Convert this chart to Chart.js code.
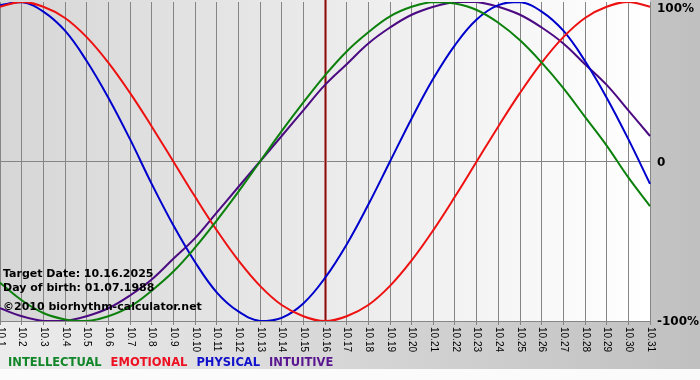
<!DOCTYPE html>
<html>
<head>
<meta charset="utf-8">
<script src="https://cdn.jsdelivr.net/npm/chart.js@4.4.1/dist/chart.umd.min.js"></script>
<style>
  html, body { margin: 0; padding: 0; background: #fff; }
  #wrap { width: 700px; height: 380px; }
</style>
</head>
<body>
<div id="wrap"><canvas id="bio-chart" width="700" height="380"></canvas></div>
<script>
const DAYS = ['10.1', '10.2', '10.3', '10.4', '10.5', '10.6', '10.7', '10.8', '10.9', '10.10',
    '10.11', '10.12', '10.13', '10.14', '10.15', '10.16', '10.17', '10.18', '10.19', '10.20',
    '10.21', '10.22', '10.23', '10.24', '10.25', '10.26', '10.27', '10.28', '10.29', '10.30', '10.31'];

const INTELLECTUAL = [-0.76, -0.87, -0.95, -0.99, -1.00, -0.97, -0.91, -0.81, -0.69, -0.54,
    -0.37, -0.19, 0.00, 0.19, 0.37, 0.54, 0.69, 0.81, 0.91, 0.97,
    1.00, 0.99, 0.95, 0.87, 0.76, 0.62, 0.46, 0.28, 0.10, -0.10, -0.28];

const EMOTIONAL = [0.97, 1.00, 0.97, 0.90, 0.78, 0.62, 0.43, 0.22, 0.00, -0.22,
    -0.43, -0.62, -0.78, -0.90, -0.97, -1.00, -0.97, -0.90, -0.78, -0.62,
    -0.43, -0.22, 0.00, 0.22, 0.43, 0.62, 0.78, 0.90, 0.97, 1.00, 0.97];

const PHYSICAL = [0.98, 1.00, 0.94, 0.82, 0.63, 0.40, 0.14, -0.14, -0.40, -0.63,
    -0.82, -0.94, -1.00, -0.98, -0.89, -0.73, -0.52, -0.27, 0.00, 0.27,
    0.52, 0.73, 0.89, 0.98, 1.00, 0.94, 0.82, 0.63, 0.40, 0.14, -0.14];

const INTUITIVE = [-0.92, -0.97, -1.00, -1.00, -0.97, -0.92, -0.84, -0.74, -0.61, -0.48,
    -0.32, -0.16, 0.00, 0.16, 0.32, 0.48, 0.61, 0.74, 0.84, 0.92,
    0.97, 1.00, 1.00, 0.97, 0.92, 0.84, 0.74, 0.61, 0.48, 0.32, 0.16];

const Y_TICKS = [-1, 0, 1];
const Y_TICK_LABELS = ['-100%', '0', '100%'];

const TARGET_DAY = '10.16';
const INFO_LINES = ['Target Date: 10.16.2025', 'Day of birth: 01.07.1988', '\u00a92010 biorhythm-calculator.net'];

const SERIES = [
    { label: 'INTELLECTUAL', data: INTELLECTUAL, color: '#0b800b', legendColor: '#13862a' },
    { label: 'EMOTIONAL', data: EMOTIONAL, color: '#ee1111', legendColor: '#ee1122' },
    { label: 'PHYSICAL', data: PHYSICAL, color: '#0000cc', legendColor: '#1111cc' },
    { label: 'INTUITIVE', data: INTUITIVE, color: '#4b0a82', legendColor: '#5a1590' },
];

const GRID_COLOR = '#858585';

// backgrounds: grey frame + lighter plot area
const backgroundPlugin = {
    id: 'bioBackground',
    beforeDraw(chart) {
        const { ctx, chartArea: a, width, height } = chart;
        ctx.save();
        ctx.fillStyle = '#fbfbfb';
        ctx.fillRect(0, 0, width, height);
        const outer = ctx.createLinearGradient(0, 0, width, 0);
        outer.addColorStop(0, '#ececec');
        outer.addColorStop(1, '#c0c0c0');
        ctx.fillStyle = outer;
        ctx.fillRect(0, 0, width, 369);
        const inner = ctx.createLinearGradient(a.left, 0, a.right, 0);
        inner.addColorStop(0, '#d6d6d6');
        inner.addColorStop(1, '#ffffff');
        ctx.fillStyle = inner;
        ctx.fillRect(a.left, 0, a.right - a.left, a.bottom);
        ctx.restore();
    },
};

// marker for the target date
const targetLinePlugin = {
    id: 'targetLine',
    beforeDatasetsDraw(chart) {
        const { ctx, chartArea: a, scales } = chart;
        const x = Math.round(scales.x.getPixelForValue(DAYS.indexOf(TARGET_DAY)));
        ctx.save();
        ctx.fillStyle = '#c27070';
        ctx.fillRect(x - 1, a.top - 2, 3, a.bottom - a.top + 2);
        ctx.fillStyle = '#7d1010';
        ctx.fillRect(x, a.top - 2, 1, a.bottom - a.top + 2);
        ctx.restore();
    },
};

// tick labels, info text and legend
const textPlugin = {
    id: 'bioText',
    afterDraw(chart) {
        const { ctx, chartArea: a, scales } = chart;
        ctx.save();

        // x labels, rotated clockwise
        ctx.fillStyle = '#000';
        ctx.font = '10px "Liberation Sans"';
        ctx.textAlign = 'left';
        ctx.textBaseline = 'middle';
        DAYS.forEach((d, i) => {
            const x = scales.x.getPixelForValue(i);
            ctx.save();
            ctx.translate(x + 0.5, a.bottom + 6);
            ctx.rotate(Math.PI / 2);
            ctx.fillText(d, 0, 0);
            ctx.restore();
        });

        // y labels on the right
        ctx.font = 'bold 12px "DejaVu Sans"';
        Y_TICKS.forEach((v, i) => {
            let y = scales.y.getPixelForValue(v);
            y = Math.max(y, 8);
            ctx.fillText(Y_TICK_LABELS[i], a.right + 7, y + 1);
        });

        // info text
        ctx.font = 'bold 11px "DejaVu Sans"';
        ctx.textBaseline = 'alphabetic';
        const infoY = [277, 291, 310];
        INFO_LINES.forEach((t, i) => ctx.fillText(t, 3, infoY[i]));

        // legend
        ctx.font = 'bold 11.5px "DejaVu Sans"';
        let lx = 8;
        SERIES.forEach((s) => {
            ctx.fillStyle = s.legendColor;
            ctx.fillText(s.label, lx, 366);
            lx += ctx.measureText(s.label).width + 9;
        });
        ctx.restore();
    },
};

const buildConfig = () => ({
    type: 'line',
    data: {
        labels: DAYS,
        datasets: SERIES.map((s) => ({
            label: s.label,
            data: s.data,
            borderColor: s.color,
            borderWidth: 2,
            pointRadius: 0,
            tension: 0.4,
            fill: false,
        })),
    },
    options: {
        responsive: false,
        animation: false,
        layout: { padding: { left: 0, right: 0, top: 2, bottom: 0 } },
        plugins: {
            legend: { display: false },
            tooltip: { enabled: false },
        },
        scales: {
            x: {
                offset: false,
                grid: { color: GRID_COLOR, lineWidth: 1, tickLength: 4, offset: false },
                border: { display: true, color: GRID_COLOR },
                ticks: { display: false, autoSkip: false },
                afterFit: (s) => { s.height = 59; },
            },
            y: {
                position: 'right',
                min: -1,
                max: 1,
                afterBuildTicks: (s) => { s.ticks = Y_TICKS.map((v) => ({ value: v })); },
                grid: {
                    drawTicks: false,
                    color: (c) => (c.tick && c.tick.value === 0 ? GRID_COLOR : 'rgba(0,0,0,0)'),
                },
                border: { display: false },
                ticks: { display: false },
                afterFit: (s) => { s.width = 50; },
            },
        },
    },
    plugins: [backgroundPlugin, targetLinePlugin, textPlugin],
});

(function () {
    const el = document.getElementById('bio-chart');
    new Chart(el, buildConfig());
})();
</script>
</body>
</html>
